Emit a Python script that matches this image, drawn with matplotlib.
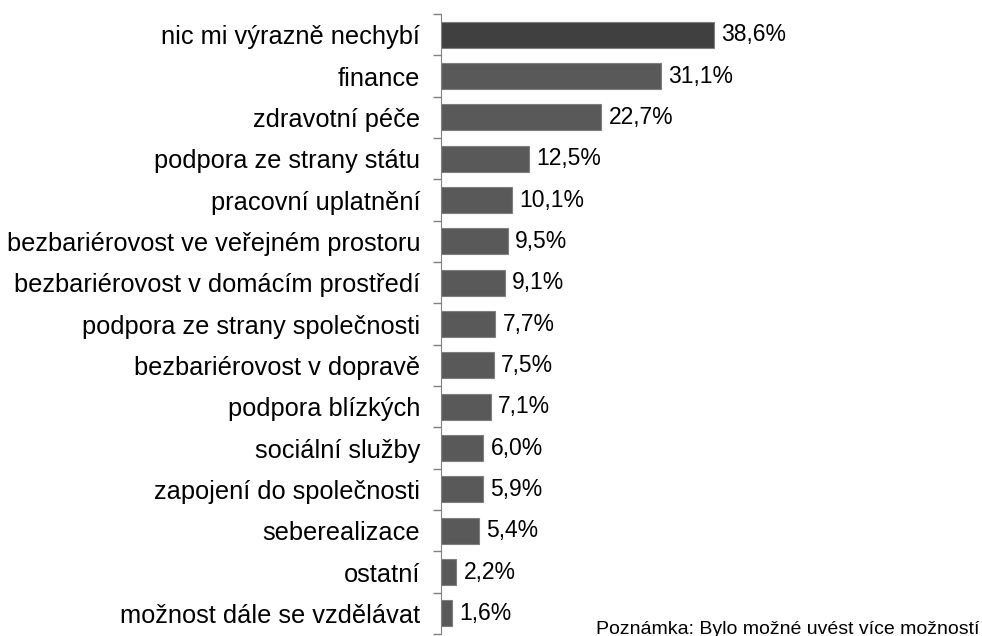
import matplotlib.pyplot as plt
import numpy as np

plt.rcParams['font.family'] = ['Liberation Sans', 'DejaVu Sans']

# categories from top to bottom
labels = ["nic mi výrazně nechybí", "finance", "zdravotní péče",
          "podpora ze strany státu", "pracovní uplatnění",
          "bezbariérovost ve veřejném prostoru",
          "bezbariérovost v domácím prostředí",
          "podpora ze strany společnosti", "bezbariérovost v dopravě",
          "podpora blízkých", "sociální služby", "zapojení do společnosti",
          "seberealizace", "ostatní", "možnost dále se vzdělávat"]
values = [38.6, 31.1, 22.7, 12.5, 10.1, 9.5, 9.1, 7.7, 7.5, 7.1, 6.0, 5.9, 5.4, 2.2, 1.6]

fig = plt.figure(figsize=(9.82, 6.36), dpi=100)
ax = fig.add_axes([0.449, 0.003, 0.551, 0.975])

y = np.arange(len(labels))
colors = ["#404040"] + ["#595959"] * (len(labels) - 1)
ax.barh(y, values, height=0.63, color=colors, edgecolor="#7f7f7f", linewidth=0.8)

# value labels
for yi, v in zip(y, values):
    ax.text(v + 1.0, yi, f"{v:.1f}%".replace(".", ","), va="center", ha="left", fontsize=16.5)

ax.set_ylim(len(labels) - 0.5, -0.5)
ax.set_xlim(0, 76.5)
ax.set_yticks(y)
ax.set_yticklabels(labels, fontsize=18.3)
ax.tick_params(axis="y", which="major", length=0, pad=15)
ax.set_yticks(np.arange(len(labels) + 1) - 0.5, minor=True)
ax.tick_params(axis="y", which="minor", length=6, color="#808080", width=1)
ax.set_xticks([])

for s in ["top", "right", "bottom"]:
    ax.spines[s].set_visible(False)
ax.spines["left"].set_color("#808080")

fig.text(0.607, 0.024, "Poznámka: Bylo možné uvést více možností", fontsize=14, va="top", ha="left")

fig.savefig("out.png", dpi=100)
